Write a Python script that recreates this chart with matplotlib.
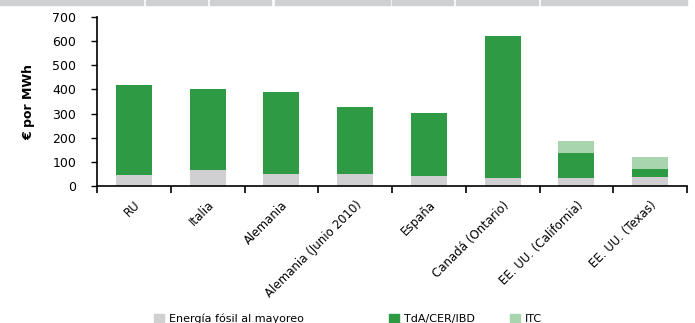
import matplotlib
matplotlib.use("Agg")
import matplotlib.pyplot as plt
from matplotlib.patches import Rectangle, Patch
import numpy as np

categories = ["RU", "Italia", "Alemania", "Alemania (Junio 2010)", "España",
              "Canadá (Ontario)", "EE. UU. (California)", "EE. UU. (Texas)"]
fosil = [45, 65, 48, 48, 42, 35, 35, 36]
tda = [375, 335, 342, 280, 260, 585, 103, 36]
itc = [0, 0, 0, 0, 0, 0, 48, 49]

c_gray = "#d0d0d2"
c_green = "#2e9a44"
c_light = "#a8d5ae"

plt.rcParams['font.family'] = ['DejaVu Sans']
fig = plt.figure(figsize=(6.95, 3.23), dpi=100)
ax = fig.add_axes([97/695, 1-186/323, (687-97)/695, (186-17)/323])

x = np.arange(len(categories))
w = 0.49
ax.bar(x, fosil, w, color=c_gray, label="Energía fósil al mayoreo")
ax.bar(x, tda, w, bottom=fosil, color=c_green, label="TdA/CER/IBD")
ax.bar(x, itc, w, bottom=np.array(fosil)+np.array(tda), color=c_light, label="ITC")

ax.set_xlim(-0.5, len(categories)-0.5)
ax.set_ylim(0, 700)
ax.set_yticks(range(0, 701, 100))
ax.tick_params(axis='y', labelsize=9, length=4, width=1, direction='out', pad=11)
ax.set_xticks(x)
ax.set_xticklabels(categories, rotation=45, ha='right', rotation_mode='anchor', fontsize=8.5)
ax.tick_params(axis='x', length=0, pad=9)
ax.set_xticks(np.arange(-0.5, len(categories), 1), minor=True)
ax.tick_params(axis='x', which='minor', length=5, width=1.2, direction='out')
for s in ['top', 'right']:
    ax.spines[s].set_visible(False)
ax.spines['left'].set_linewidth(1.2)
ax.spines['bottom'].set_linewidth(1.2)
ax.set_ylabel("€ por MWh", fontsize=9, fontweight='bold', labelpad=12)

# header strip
segs = [(0, 143), (146, 207), (210, 271), (275, 390), (392, 453), (456, 538), (541, 687)]
for a, b in segs:
    fig.patches.append(Rectangle((a/695, 1-5/323), (b-a)/695, 5/323, transform=fig.transFigure,
                                 color="#cfd0d2", zorder=0))

handles, labels = ax.get_legend_handles_labels()
xs = [150/695, 385/695, 506/695]
for h, l, xx in zip(handles, labels, xs):
    fig.legend([Patch(color=h.patches[0].get_facecolor())], [l], loc='lower left',
               bbox_to_anchor=(xx, -0.017), frameon=False, fontsize=8,
               handlelength=0.9, handleheight=0.9, handletextpad=0.4, borderaxespad=0)

fig.savefig("out.png", dpi=100)
